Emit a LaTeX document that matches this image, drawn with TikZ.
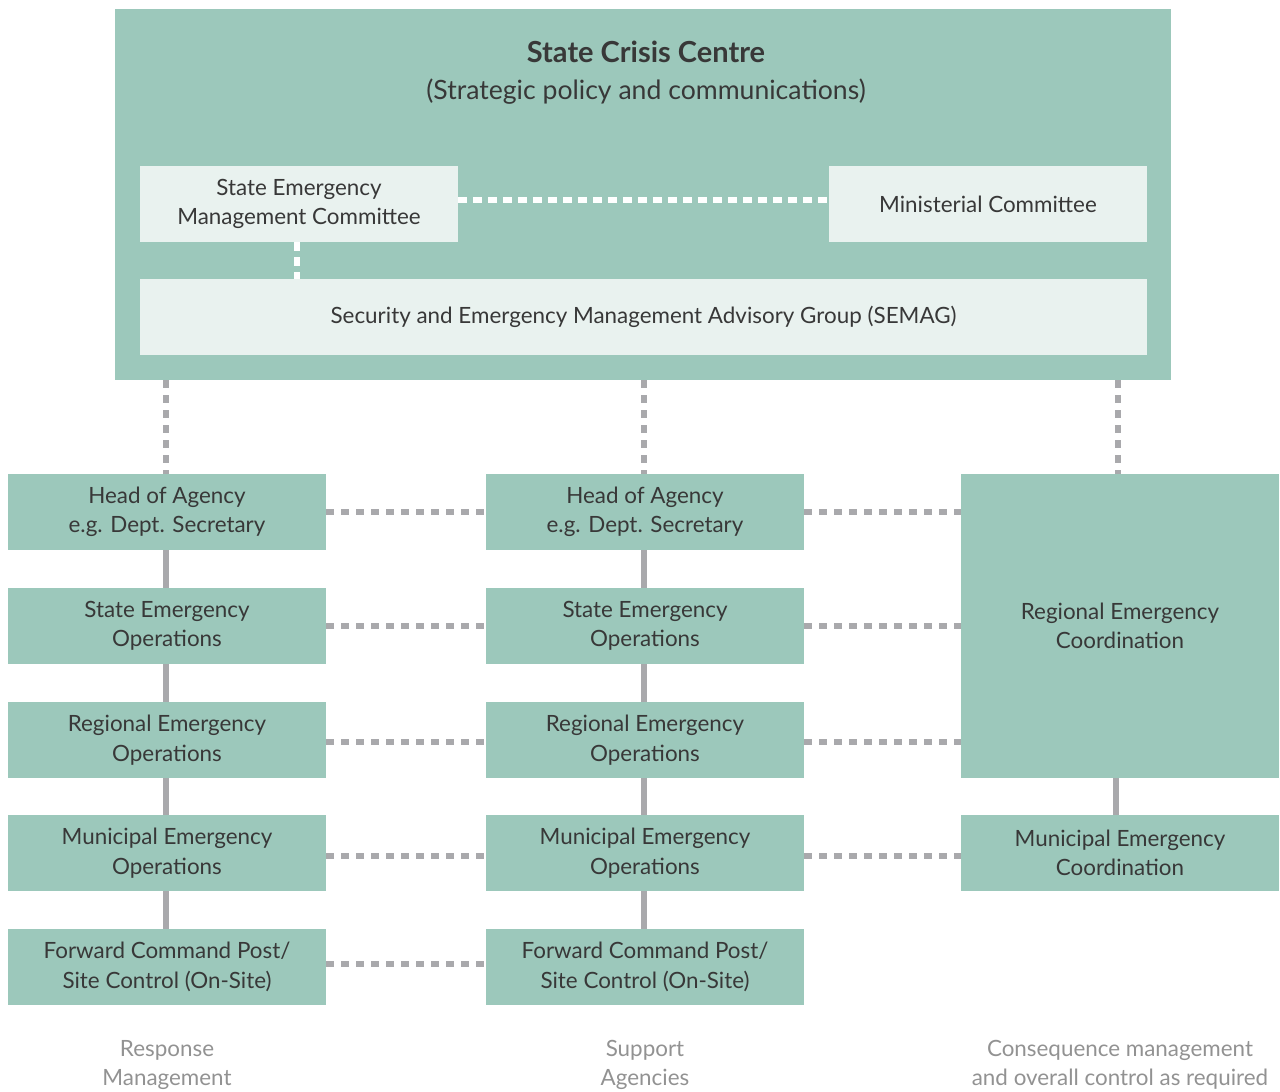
\documentclass[tikz,border=0pt]{standalone}
\usepackage{fontspec}
\setmainfont{Lato}
\definecolor{boxgreen}{HTML}{9CC8BB}
\definecolor{boxlight}{HTML}{E9F2EF}
\definecolor{linegray}{HTML}{A9A9AC}
\definecolor{txt}{HTML}{383838}
\definecolor{foot}{HTML}{929292}
\begin{document}
\begin{tikzpicture}[x=1pt,y=-1pt,
  gbox/.style={fill=boxgreen, draw=none, minimum width=318pt, minimum height=76pt, inner sep=0pt, align=center, text=txt, font=\fontsize{22.4}{29.5}\selectfont},
  lbox/.style={fill=boxlight, draw=none, minimum height=76pt, inner sep=0pt, align=center, text=txt, font=\fontsize{22.4}{29.5}\selectfont},
  gdash/.style={draw=linegray, line width=6.5pt, dash pattern=on 7.5pt off 7.5pt},
  wdash/.style={draw=white, line width=6pt, dash pattern=on 9pt off 6pt},
  gsolid/.style={draw=linegray, line width=6pt},
  footlbl/.style={text=foot, align=center, font=\fontsize{22.4}{29.5}\selectfont}
]
\useasboundingbox (0,0) rectangle (1280,1092);
% State crisis centre
\node[fill=boxgreen, minimum width=1056pt, minimum height=371pt, inner sep=0pt] (scc) at (643,194.5) {};
\node[text=txt, font=\fontsize{29}{30}\selectfont\bfseries] (title) at (646,52) {State Crisis Centre};
\node[text=txt, font=\fontsize{26.6}{30}\selectfont] (sub) at (646,92) {(Strategic policy and communications)};
\node[lbox, minimum width=318pt] (semc) at (299,204) {State Emergency\\Management Committee};
\node[lbox, minimum width=318pt] (mc) at (988,204) {Ministerial Committee};
\node[lbox, minimum width=1007pt] (semag) at (643.5,317) {Security and Emergency Management Advisory Group (SEMAG)};
\draw[wdash] (semc.east |- 0,200) -- (mc.west |- 0,200);
\draw[wdash] (297,242) coordinate (semcb) -- (semcb |- semag.north);

% Columns
\node[gbox] (l1) at (167,512) {Head of Agency\\e.g. Dept. Secretary};
\node[gbox] (l2) at (167,626) {State Emergency\\Operations};
\node[gbox] (l3) at (167,740) {Regional Emergency\\Operations};
\node[gbox] (l4) at (167,853) {Municipal Emergency\\Operations};
\node[gbox] (l5) at (167,967) {Forward Command Post/\\Site Control (On-Site)};

\node[gbox] (m1) at (645,512) {Head of Agency\\e.g. Dept. Secretary};
\node[gbox] (m2) at (645,626) {State Emergency\\Operations};
\node[gbox] (m3) at (645,740) {Regional Emergency\\Operations};
\node[gbox] (m4) at (645,853) {Municipal Emergency\\Operations};
\node[gbox] (m5) at (645,967) {Forward Command Post/\\Site Control (On-Site)};

\node[gbox, minimum height=304pt] (r1) at (1120,626) {Regional Emergency\\Coordination};
\node[gbox] (r2) at (1120,853) {Municipal Emergency\\Coordination};

% vertical dashed from SCC
\draw[gdash] (scc.south -| 166,0) coordinate (a1) -- (a1 |- l1.north);
\draw[gdash] (scc.south -| 644,0) coordinate (a2) -- (a2 |- m1.north);
\draw[gdash] (scc.south -| 1118,0) coordinate (a3) -- (a3 |- r1.north);

% solid verticals
\foreach \a/\b in {l1/l2,l2/l3,l3/l4,l4/l5}{
  \draw[gsolid] ([xshift=-1pt]\a.south) -- ([xshift=-1pt]\b.north);
}
\foreach \a/\b in {m1/m2,m2/m3,m3/m4,m4/m5}{
  \draw[gsolid] ([xshift=-1pt]\a.south) -- ([xshift=-1pt]\b.north);
}
\draw[gsolid] ([xshift=-4pt]r1.south) -- ([xshift=-4pt]r2.north);

% horizontal dashed
\draw[gdash] (l1.east) -- (m1.west);
\draw[gdash] (l2.east) -- (m2.west);
\draw[gdash] ([yshift=-2pt]l3.east) -- ([yshift=-2pt]m3.west);
\draw[gdash] ([yshift=-3pt]l4.east) -- ([yshift=-3pt]m4.west);
\draw[gdash] ([yshift=3pt]l5.east) -- ([yshift=3pt]m5.west);
\draw[gdash] (m1.east) -- (m1.east -| r1.west);
\draw[gdash] (m2.east) -- (m2.east -| r1.west);
\draw[gdash] ([yshift=-2pt]m3.east) -- ([yshift=-2pt]m3.east -| r1.west);
\draw[gdash] ([yshift=-3pt]m4.east) -- ([yshift=-3pt]r2.west);

% footer
\node[footlbl] (f1) at (167,1065) {Response\\Management};
\node[footlbl] (f2) at (645,1065) {Support\\Agencies};
\node[footlbl] (f3) at (1120,1065) {Consequence management\\and overall control as required};
\end{tikzpicture}
\end{document}
